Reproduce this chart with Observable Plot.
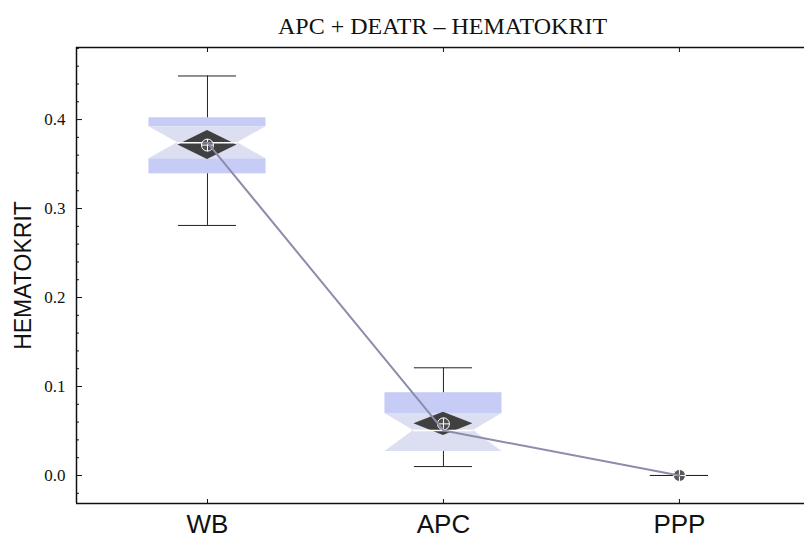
<!DOCTYPE html>
<html><head><meta charset="utf-8">
<script src="https://cdn.jsdelivr.net/npm/d3@7"></script>
<script src="https://cdn.jsdelivr.net/npm/@observablehq/plot@0.6"></script>
<style>body{margin:0;background:#fff}</style>
</head><body><div id="chart"></div>
<script>
// ---- data ----
const categories = ["WB", "APC", "PPP"];
const whiskerMax = [0.449, 0.121, 0];
const q3         = [0.402, 0.093, 0];
const notchHi    = [0.392, 0.0697, 0];
const median     = [0.374, 0.0506, 0];
const notchLo    = [0.356, 0.027, 0];
const q1         = [0.339, 0.027, 0];
const whiskerMin = [0.281, 0.010, 0];
const mean       = [0.3713, 0.058, 0];
const meanCI     = [0.0163, 0.013, 0];
const yMajorTicks = [0, 0.1, 0.2, 0.3, 0.4];
const yMinorTicks = [-0.02, 0.02, 0.04, 0.06, 0.08, 0.12, 0.14, 0.16, 0.18, 0.22, 0.24, 0.26, 0.28, 0.32, 0.34, 0.36, 0.38, 0.42, 0.44, 0.46, 0.48];
const title = "APC + DEATR \u2013 HEMATOKRIT";
const yLabel = "HEMATOKRIT";

// ---- derived tables ----
const rows = categories.map((cat, i) => ({
  cat, pos: i + 1,
  max: whiskerMax[i], q3: q3[i], nHi: notchHi[i], median: median[i],
  nLo: notchLo[i], q1: q1[i], min: whiskerMin[i], mean: mean[i], ci: meanCI[i]
}));
const HW = 0.248, NW = 0.127, DW = 0.125, CW = 0.123;
const notchPts = rows.filter(d => d.q3 > d.q1).flatMap(d => [
  {cat: d.cat, y: d.nHi, x1: d.pos - HW, x2: d.pos + HW},
  {cat: d.cat, y: d.median, x1: d.pos - NW, x2: d.pos + NW},
  {cat: d.cat, y: d.nLo, x1: d.pos - HW, x2: d.pos + HW}
]);
const diamondPts = rows.filter(d => d.ci > 0).flatMap(d => [
  {cat: d.cat, y: d.mean + d.ci, x1: d.pos, x2: d.pos},
  {cat: d.cat, y: d.mean, x1: d.pos - DW, x2: d.pos + DW},
  {cat: d.cat, y: d.mean - d.ci, x1: d.pos, x2: d.pos}
]);
const xDomain = [0.445, 3.53];
const yDomain = [-0.0315, 0.481];

const dark = "#c6ccf5", light = "#dcdff2";
const serif = "'Liberation Serif', 'Times New Roman', serif";
const sans = "'Liberation Sans', Arial, sans-serif";

const plot = Plot.plot({
  width: 804, height: 541,
  marginLeft: 76, marginRight: 0, marginTop: 47, marginBottom: 38,
  x: {type: "linear", domain: xDomain},
  y: {domain: yDomain},
  style: {background: "#fff"},
  marks: [
    // box bands
    Plot.rect(rows, {x1: d => d.pos - HW, x2: d => d.pos + HW, y1: "nHi", y2: "q3", fill: dark}),
    Plot.rect(rows, {x1: d => d.pos - HW, x2: d => d.pos + HW, y1: "q1", y2: "nLo", fill: dark}),
    // notch
    Plot.areaX(notchPts, {y: "y", x1: "x1", x2: "x2", z: "cat", fill: light}),
    // mean diamond
    Plot.areaX(diamondPts, {y: "y", x1: "x1", x2: "x2", z: "cat", fill: "#404040"}),
    // median line
    Plot.ruleY(rows.filter(d => d.q3 > d.q1), {y: "median", x1: d => d.pos - NW, x2: d => d.pos + NW, stroke: "white", strokeWidth: 1.5}),
    // whiskers
    Plot.ruleX(rows, {x: "pos", y1: "q3", y2: "max", stroke: "#222"}),
    Plot.ruleX(rows, {x: "pos", y1: "min", y2: "q1", stroke: "#222"}),
    Plot.ruleY(rows, {y: "max", x1: d => d.pos - CW, x2: d => d.pos + CW, stroke: "#222"}),
    Plot.ruleY(rows, {y: "min", x1: d => d.pos - CW, x2: d => d.pos + CW, stroke: "#222"}),
    // mean markers
    Plot.dot(rows, {x: "pos", y: "mean", r: 6, fill: d => d.ci > 0 ? "#555" : "#111", fillOpacity: 0.7, stroke: "white", strokeWidth: 1}),
    Plot.dot(rows, {x: "pos", y: "mean", r: 4, symbol: "plus", stroke: "white", strokeWidth: 1}),
    // connecting line through medians
    Plot.line(rows, {x: "pos", y: "median", stroke: "#8c8cab", strokeWidth: 2}),
    // frame lines
    Plot.ruleX([xDomain[0]], {stroke: "#111", strokeWidth: 1.5}),
    Plot.ruleY([yDomain[1]], {stroke: "#111", strokeWidth: 1.5}),
    Plot.ruleY([yDomain[0]], {stroke: "#111", strokeWidth: 1.5}),
    // y axis
    Plot.axisY(yMajorTicks, {anchor: "left", tickSize: -6, tickFormat: () => "", label: null, stroke: "#111"}),
    Plot.axisY(yMinorTicks, {anchor: "left", tickSize: -3, tickFormat: () => "", label: null, stroke: "#111"}),
    Plot.axisY(yMajorTicks, {anchor: "left", tickSize: 0, tickPadding: 11, tickFormat: d3.format(".1f"), label: null, fontSize: 17, fontFamily: serif, fill: "#111"}),
    // x axis
    Plot.axisX([1, 2, 3], {anchor: "bottom", tickSize: -4, tickFormat: () => "", label: null, stroke: "#111"}),
    Plot.axisX([1, 2, 3], {anchor: "top", tickSize: -4, tickFormat: () => "", label: null, stroke: "#111"}),
    Plot.axisX([1, 2, 3], {anchor: "bottom", tickSize: 0, tickPadding: 11, tickFormat: d => categories[d - 1], label: null, fontSize: 26, fontFamily: sans, fill: "#111"}),
    // title & y label
    Plot.text([title], {frameAnchor: "top", lineAnchor: "bottom", dy: -14, dx: 2, fontFamily: serif, fontSize: 24, fill: "#111"}),
    Plot.text([yLabel], {frameAnchor: "left", textAnchor: "middle", rotate: -90, dx: -53, fontFamily: sans, fontSize: 23, fill: "#111"})
  ]
});
document.getElementById("chart").appendChild(plot);
</script>
</body></html>
